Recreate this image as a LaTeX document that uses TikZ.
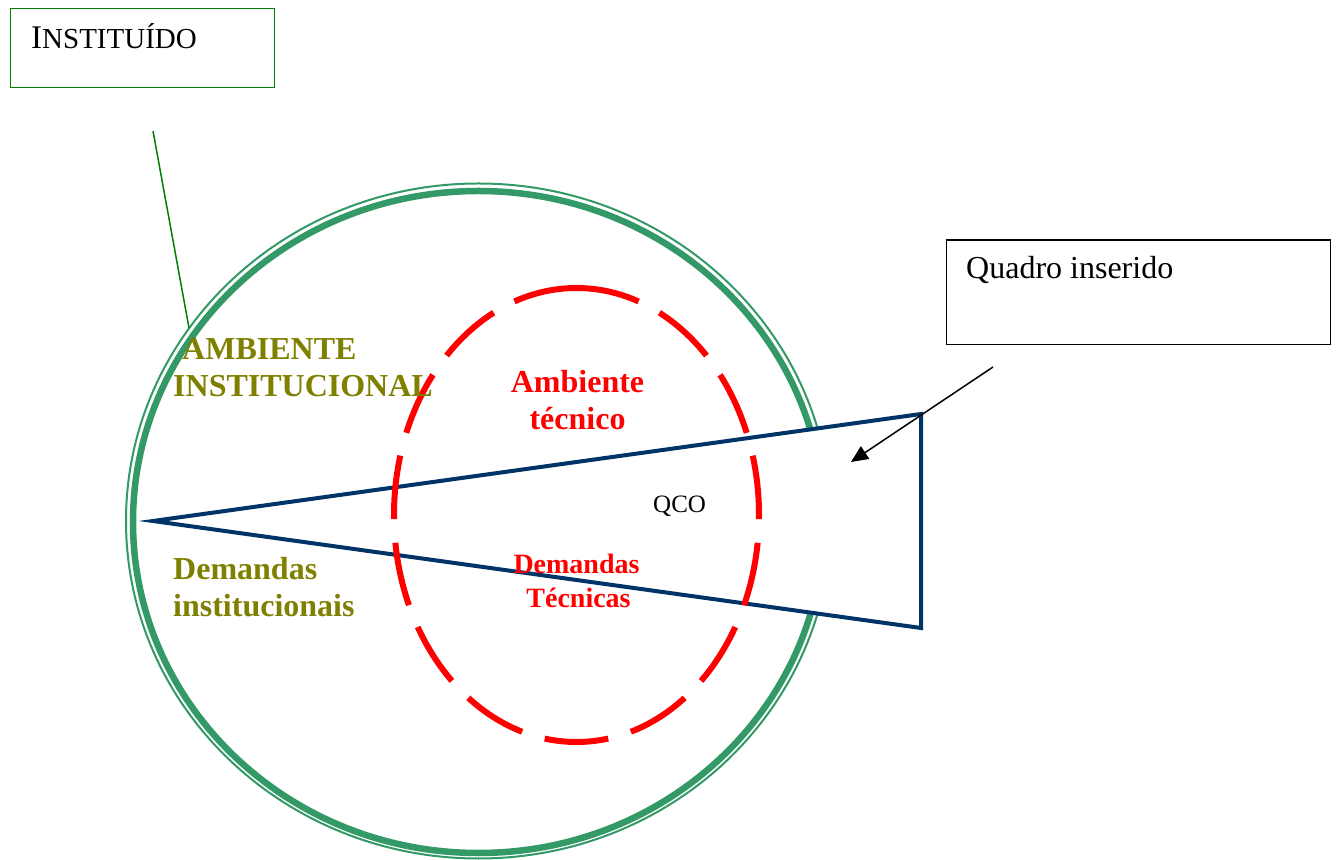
\documentclass[tikz,border=0pt]{standalone}
\usepackage{fontspec}
\setmainfont{Liberation Serif}
\usetikzlibrary{arrows.meta}
\definecolor{seagreen}{RGB}{51,153,102}
\definecolor{navyblue}{RGB}{0,51,102}
\definecolor{olivetxt}{RGB}{128,128,0}
\definecolor{boxgreen}{RGB}{0,128,0}
\begin{document}
\begin{tikzpicture}[x=1pt,y=1pt,
  txtw/.style={inner sep=0pt, anchor=base west},
  txtc/.style={inner sep=0pt, anchor=base},
  boldlbl/.style={font=\fontsize{32}{37}\selectfont\bfseries},
  redlbl/.style={font=\fontsize{28}{34}\selectfont\bfseries, text=red},
  textbox/.style={inner sep=0pt, anchor=north west, line width=1.3pt}]
\useasboundingbox (0,0) rectangle (1337,859);

% institutional environment: thin-thick double ring
\draw[seagreen, line width=2pt] (478.5,338) ellipse [x radius=352.5pt, y radius=337.5pt];
\draw[seagreen, line width=6.5pt] (478.5,337) ellipse [x radius=345.5pt, y radius=331pt];

% QCO wedge
\coordinate (apex) at (153,338);
\coordinate (topright) at (921,445);
\coordinate (botright) at (921,231);
\filldraw[fill=white, draw=navyblue, line width=4pt, line join=miter]
  (apex) -- (topright) -- (botright) -- cycle;

% technical environment: dashed ellipse
\draw[red, line width=6pt, dash pattern=on 64pt off 23.6pt]
  (576.5,571) arc[start angle=90, end angle=450, x radius=182.5pt, y radius=227pt];

% leader from the INSTITUÍDO box
\coordinate (leadtop) at (153,728);
\coordinate (leadbot) at (189,531);
\draw[boxgreen, line width=1.5pt] (leadtop) -- (leadbot);

% labels
\node[txtw, boldlbl, text=olivetxt] (ambinst1) at (182,499) {AMBIENTE};
\node[txtw, boldlbl, text=olivetxt] (ambinst2) at (173,462) {INSTITUCIONAL};
\node[txtw, boldlbl, text=olivetxt] (demi1) at (173,279) {Demandas};
\node[txtw, boldlbl, text=olivetxt] (demi2) at (173,242) {institucionais};
\node[txtc, boldlbl, text=red] (ambt1) at (577.5,466) {Ambiente};
\node[txtc, boldlbl, text=red] (ambt2) at (577.5,429) {técnico};
\node[txtc, redlbl] (demt1) at (576.5,285) {Demandas};
\node[txtc, redlbl] (demt2) at (578.5,251) {Técnicas};
\node[txtw, font=\fontsize{25}{30}\selectfont] (qco) at (653,346) {QCO};

% text boxes
\node[textbox, draw=boxgreen, minimum width=264pt, minimum height=79pt] (instbox) at (10,851) {};
\node[txtw] (insttxt) at (31,810) {{\fontsize{33}{38}\selectfont I}{\fontsize{29}{34}\selectfont NSTITUÍDO}};
\node[textbox, draw=black, minimum width=383.5pt, minimum height=104.5pt] (quadbox) at (946,619.5) {};
\node[txtw, font=\fontsize{32}{37}\selectfont] (quadtxt) at (966,580) {Quadro inserido};

% pointer into the wedge
\coordinate (arrstart) at (993,492);
\coordinate (arrend) at (851,397);
\draw[line width=1.5pt, -{Triangle[length=17pt,width=15pt]}] (arrstart) -- (arrend);
\end{tikzpicture}
\end{document}
